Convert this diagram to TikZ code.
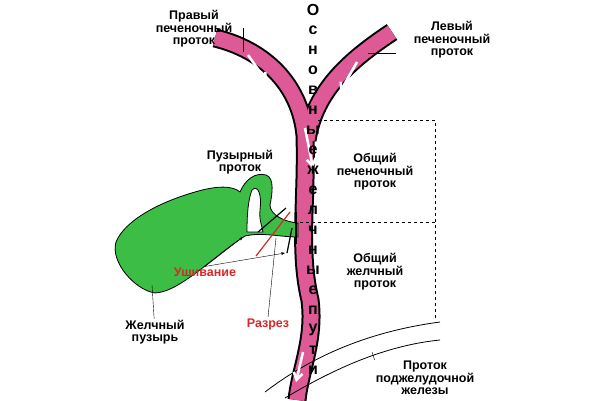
\documentclass[tikz,border=0pt]{standalone}
\usepackage{fontspec}
\setmainfont{Liberation Sans}[BoldFont={Liberation Sans Bold}]
\usetikzlibrary{arrows.meta,positioning}
\definecolor{duct}{RGB}{222,90,150}
\definecolor{bladder}{RGB}{60,190,70}
\definecolor{cut}{RGB}{215,40,40}
\tikzset{
  lbl/.style={font=\bfseries\fontsize{12.5}{12.5}\selectfont, align=center, inner sep=1pt},
  redlbl/.style={lbl, text=cut},
  ptr/.style={-, thin, black},
  flow/.style={-{Straight Barb[length=7pt,width=9pt]}, white, line width=2.5pt},
  frame/.style={dashed, thick}
}
\begin{document}
\begin{tikzpicture}[x=1pt,y=-1pt]
\useasboundingbox (0,0) rectangle (600,400);

%ducts
\foreach \w/\c in {19/black,15/duct}{
  \draw[line width=\w pt, color=\c] (215,38) .. controls (265,50) and (300,85) .. (305,135)
    .. controls (307,200) and (298,250) .. (310,300) .. controls (315,340) and (300,370) .. (297,400);
  \draw[line width=\w pt, color=\c] (392,32) .. controls (350,60) and (315,90) .. (307,140);
}

%gallbladder
\draw[fill=bladder, thick] (298,223) .. controls (285,222) and (270,215) .. (270,205)
  .. controls (272,195) and (275,178) .. (266,175) .. controls (255,172) and (245,180) .. (240,192)
  .. controls (232,185) and (215,186) .. (195,192) .. controls (160,202) and (125,220) .. (116,242)
  .. controls (110,262) and (135,290) .. (155,293) .. controls (180,292) and (215,255) .. (245,236)
  .. controls (262,232) and (280,237) .. (298,237) -- cycle;
\draw[fill=white, thick] (247,232) .. controls (247,215) and (248,200) .. (252,190)
  .. controls (258,184) and (262,195) .. (260,210) .. controls (259,220) and (262,226) .. (263,232) -- cycle;
\node[lbl] (gb) at (155,332) {Желчный\\пузырь};
\coordinate (gbin) at (152,285);
\draw[ptr] (gbin) -- (gb);

%clips and cut
\coordinate (c1a) at (258,232); \coordinate (c1b) at (286,208);
\coordinate (c2a) at (287,253); \coordinate (c2b) at (292,228);
\coordinate (c3a) at (296,212); \coordinate (c3b) at (296,244);
\draw[very thick] (c1a) -- (c1b);
\draw[very thick] (c2a) -- (c2b);
\draw[very thick] (c3a) -- (c3b);
\coordinate (ra) at (256,256); \coordinate (rb) at (290,212);
\draw[cut, very thick] (ra) -- (rb);
\node[redlbl] (suture) at (205,272) {Ушивание};
\node[redlbl] (incision) at (268,324) {Разрез};
\coordinate (s1) at (243,237); \coordinate (s2) at (285,253);
\draw[ptr, -{Stealth[length=4pt]}] (suture.north) -- (s1);
\draw[ptr, -{Stealth[length=4pt]}] (suture.north) -- (s2);
\coordinate (i1) at (276,238);
\draw[ptr] (incision.north) -- (i1);

%pancreatic duct
\draw[thick] (265,392) .. controls (320,350) and (380,330) .. (440,322);
\draw[thick] (285,398) .. controls (340,365) and (390,345) .. (440,340);
\node[lbl] (panc) at (425,378) {Проток\\поджелудочной\\железы};
\coordinate (pin) at (372,352);
\draw[ptr] (pin) -- (panc.north west);

%dashed frame
\coordinate (f1) at (318,120); \coordinate (f2) at (435,120);
\coordinate (f3) at (300,222); \coordinate (f4) at (435,222);
\coordinate (f5) at (435,320);
\draw[frame] (f1) -- (f2) -- (f4);
\draw[frame] (f3) -- (f4) -- (f5);
\node[lbl] (hep) at (375,172) {Общий\\печеночный\\проток};
\node[lbl] (bile) at (375,272) {Общий\\желчный\\проток};

%labels
\node[lbl] (right) at (194,29) {Правый\\печеночный\\проток};
\node[lbl] (left) at (452,40) {Левый\\печеночный\\проток};
\node[lbl] (cyst) at (240,162) {Пузырный\\проток};
\coordinate (rt0) at (243,28); \coordinate (rt) at (243,52);
\coordinate (lt0) at (396,53); \coordinate (lt) at (368,53);
\draw[ptr] (rt0) -- (rt);
\draw[ptr] (lt0) -- (lt);

%flow arrows
\coordinate (a1) at (248,55); \coordinate (a2) at (267,82);
\coordinate (b1) at (357,62); \coordinate (b2) at (340,92);
\coordinate (d1) at (305,128); \coordinate (d2) at (313,168);
\coordinate (e1) at (303,352); \coordinate (e2) at (296,382);
\draw[flow] (a1) -- (a2);
\draw[flow] (b1) -- (b2);
\draw[flow] (d1) -- (d2);
\draw[flow] (e1) -- (e2);

%vertical text
\foreach \ch [count=\i] in {О,с,н,о,в,н,ы,е,ж,е,л,ч,н,ы,е,п,у,т,и}
  \node[lbl, font=\bfseries\fontsize{16}{16}\selectfont] (v\i) at (313,10+\i*20-20) {\ch};
\end{tikzpicture}
\end{document}
